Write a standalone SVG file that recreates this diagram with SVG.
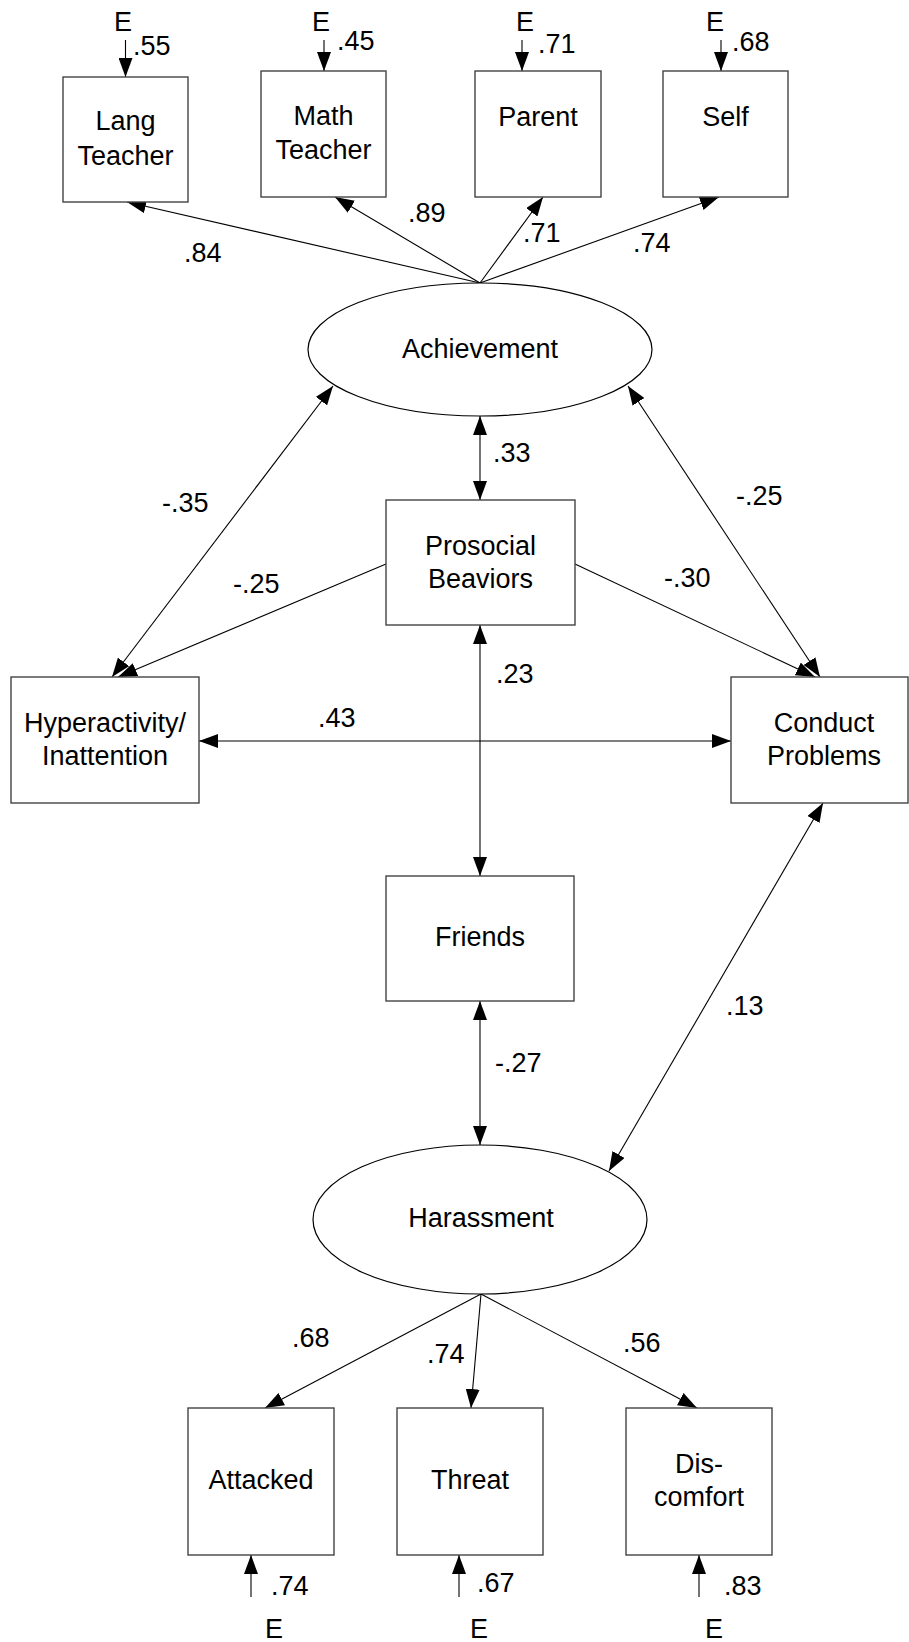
<svg xmlns="http://www.w3.org/2000/svg" width="909" height="1642" viewBox="0 0 909 1642">
<style>
text{font-family:"Liberation Sans",Arial,sans-serif;font-size:27px;fill:#000}
.c{text-anchor:middle}
.box{fill:#fff;stroke:#444;stroke-width:1.4}
.ell{fill:#fff;stroke:#000;stroke-width:1.2}
.ln{fill:none;stroke:#000;stroke-width:1.1}
.a{marker-end:url(#ah)}
.d{marker-start:url(#ah);marker-end:url(#ah)}
</style>
<defs>
<marker id="ah" markerUnits="userSpaceOnUse" markerWidth="19" markerHeight="14" refX="19" refY="7" orient="auto-start-reverse" viewBox="0 0 19 14">
<path d="M0,0 L19,7 L0,14 z" fill="#000"/>
</marker>
</defs>
<rect width="909" height="1642" fill="#fff"/>
<g id="connectors">
<!-- top errors -->
<line class="ln a" x1="125.5" y1="40" x2="125.5" y2="77"/>
<line class="ln a" x1="324" y1="40" x2="324" y2="71"/>
<line class="ln a" x1="522" y1="40" x2="522" y2="71"/>
<line class="ln a" x1="721" y1="40" x2="721" y2="71"/>
<!-- achievement loadings -->
<line class="ln a" x1="480" y1="283" x2="127" y2="202"/>
<line class="ln a" x1="480" y1="283" x2="335" y2="197"/>
<line class="ln a" x1="480" y1="283" x2="543" y2="197"/>
<line class="ln a" x1="480" y1="283" x2="719" y2="197"/>
<!-- covariances -->
<line class="ln d" x1="480" y1="416" x2="480" y2="500"/>
<line class="ln d" x1="333" y1="386" x2="112" y2="677"/>
<line class="ln d" x1="628" y1="386" x2="820" y2="677"/>
<line class="ln a" x1="386" y1="564" x2="118" y2="677"/>
<line class="ln a" x1="575" y1="564" x2="815" y2="677"/>
<line class="ln d" x1="199" y1="741" x2="731" y2="741"/>
<line class="ln d" x1="480" y1="625" x2="480" y2="876"/>
<line class="ln d" x1="480" y1="1001" x2="480" y2="1145"/>
<line class="ln d" x1="823" y1="803" x2="609" y2="1171"/>
<!-- harassment loadings -->
<line class="ln a" x1="481" y1="1294" x2="265" y2="1408"/>
<line class="ln a" x1="481" y1="1294" x2="471" y2="1408"/>
<line class="ln a" x1="481" y1="1294" x2="697" y2="1408"/>
<!-- bottom errors -->
<line class="ln a" x1="251" y1="1597" x2="251" y2="1555"/>
<line class="ln a" x1="459" y1="1597" x2="459" y2="1555"/>
<line class="ln a" x1="699" y1="1597" x2="699" y2="1555"/>
</g>
<g id="labels">
<text class="c" x="123" y="31">E</text>
<text x="133" y="55">.55</text>
<text class="c" x="321" y="31">E</text>
<text x="337" y="50">.45</text>
<text class="c" x="525" y="31">E</text>
<text x="538" y="53">.71</text>
<text class="c" x="715" y="31">E</text>
<text x="732" y="51">.68</text>
<text x="184" y="262">.84</text>
<text x="408" y="222">.89</text>
<text x="523" y="242">.71</text>
<text x="633" y="252">.74</text>
<text x="493" y="462">.33</text>
<text x="162" y="512">-.35</text>
<text x="736" y="505">-.25</text>
<text x="233" y="593">-.25</text>
<text x="664" y="587">-.30</text>
<text x="496" y="683">.23</text>
<text x="318" y="727">.43</text>
<text x="726" y="1015">.13</text>
<text x="495" y="1072">-.27</text>
<text x="292" y="1347">.68</text>
<text x="427" y="1363">.74</text>
<text x="623" y="1352">.56</text>
<text x="271" y="1595">.74</text>
<text x="477" y="1592">.67</text>
<text x="724" y="1595">.83</text>
<text class="c" x="274" y="1638">E</text>
<text class="c" x="479" y="1638">E</text>
<text class="c" x="714" y="1638">E</text>
</g>
<g id="lang">
<rect class="box" x="63" y="77" width="125" height="125"/>
<text class="c" x="125.5" y="130">Lang</text>
<text class="c" x="125.5" y="165">Teacher</text>
</g>
<g id="math">
<rect class="box" x="261" y="71" width="125" height="126"/>
<text class="c" x="323.5" y="125">Math</text>
<text class="c" x="323.5" y="159">Teacher</text>
</g>
<g id="parent">
<rect class="box" x="475" y="71" width="126" height="126"/>
<text class="c" x="538" y="126">Parent</text>
</g>
<g id="self">
<rect class="box" x="663" y="71" width="125" height="126"/>
<text class="c" x="725.5" y="126">Self</text>
</g>
<g id="achievement">
<ellipse class="ell" cx="480" cy="349.5" rx="172" ry="66.5"/>
<text class="c" x="480" y="358">Achievement</text>
</g>
<g id="prosocial">
<rect class="box" x="386" y="500" width="189" height="125"/>
<text class="c" x="480.5" y="555">Prosocial</text>
<text class="c" x="480.5" y="588">Beaviors</text>
</g>
<g id="hyper">
<rect class="box" x="11" y="677" width="188" height="126"/>
<text class="c" x="105" y="732">Hyperactivity/</text>
<text class="c" x="105" y="765">Inattention</text>
</g>
<g id="conduct">
<rect class="box" x="731" y="677" width="177" height="126"/>
<text class="c" x="824" y="732">Conduct</text>
<text class="c" x="824" y="765">Problems</text>
</g>
<g id="friends">
<rect class="box" x="386" y="876" width="188" height="125"/>
<text class="c" x="480" y="946">Friends</text>
</g>
<g id="harassment">
<ellipse class="ell" cx="480" cy="1219.5" rx="167" ry="74.5"/>
<text class="c" x="481" y="1227">Harassment</text>
</g>
<g id="attacked">
<rect class="box" x="188" y="1408" width="146" height="147"/>
<text class="c" x="261" y="1489">Attacked</text>
</g>
<g id="threat">
<rect class="box" x="397" y="1408" width="146" height="147"/>
<text class="c" x="470" y="1489">Threat</text>
</g>
<g id="discomfort">
<rect class="box" x="626" y="1408" width="146" height="147"/>
<text class="c" x="699" y="1473">Dis-</text>
<text class="c" x="699" y="1506">comfort</text>
</g>
</svg>
